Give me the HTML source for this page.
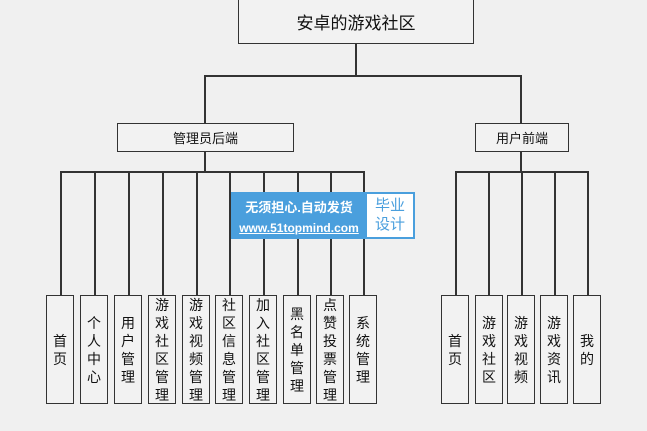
<!DOCTYPE html>
<html><head><meta charset="utf-8"><style>
body{margin:0;width:647px;height:431px;background:#f0f0f0;position:relative;overflow:hidden;font-family:"Liberation Sans","Noto Sans CJK SC",sans-serif;color:#111}
.b{position:absolute;border:1.5px solid #333;box-sizing:border-box;background:#f2f2f2;display:flex;align-items:center;justify-content:center}
.l{position:absolute;background:#333}
.v{writing-mode:vertical-rl;text-orientation:upright;font-size:14px;line-height:26px;letter-spacing:4px}
.c{position:absolute;top:295px;width:28px;height:109px;border:1.5px solid #333;box-sizing:border-box;background:#f2f2f2;display:flex;align-items:center;justify-content:center;overflow:hidden}
.c span{display:block;width:14px;font-size:14px;line-height:18px;text-align:center;word-break:break-all}
</style></head><body>
<div class="b" style="left:238px;top:-2px;width:236px;height:46px;font-size:17px">安卓的游戏社区</div>
<div class="l" style="left:355px;top:43px;width:1.5px;height:33px"></div>
<div class="l" style="left:204px;top:75px;width:318px;height:1.5px"></div>
<div class="l" style="left:204px;top:75px;width:1.5px;height:49px"></div>
<div class="l" style="left:520px;top:75px;width:1.5px;height:49px"></div>
<div class="b" style="left:117px;top:123px;width:177px;height:29px;font-size:13px">管理员后端</div>
<div class="b" style="left:475px;top:123px;width:94px;height:29px;font-size:13px">用户前端</div>
<div class="l" style="left:204px;top:151px;width:1.5px;height:21px"></div>
<div class="l" style="left:520px;top:151px;width:1.5px;height:21px"></div>
<div class="l" style="left:60px;top:171px;width:304px;height:1.5px"></div>
<div class="l" style="left:455px;top:171px;width:133px;height:1.5px"></div>
<div class="l" style="left:60px;top:171px;width:1.5px;height:124px"></div>
<div class="l" style="left:94px;top:171px;width:1.5px;height:124px"></div>
<div class="l" style="left:128px;top:171px;width:1.5px;height:124px"></div>
<div class="l" style="left:162px;top:171px;width:1.5px;height:124px"></div>
<div class="l" style="left:196px;top:171px;width:1.5px;height:124px"></div>
<div class="l" style="left:229px;top:171px;width:1.5px;height:124px"></div>
<div class="l" style="left:263px;top:171px;width:1.5px;height:124px"></div>
<div class="l" style="left:297px;top:171px;width:1.5px;height:124px"></div>
<div class="l" style="left:330px;top:171px;width:1.5px;height:124px"></div>
<div class="l" style="left:363px;top:171px;width:1.5px;height:124px"></div>
<div class="l" style="left:455px;top:171px;width:1.5px;height:124px"></div>
<div class="l" style="left:488px;top:171px;width:1.5px;height:124px"></div>
<div class="l" style="left:521px;top:171px;width:1.5px;height:124px"></div>
<div class="l" style="left:554px;top:171px;width:1.5px;height:124px"></div>
<div class="l" style="left:587px;top:171px;width:1.5px;height:124px"></div>

<div class="c" style="left:46px"><span>首页</span></div>
<div class="c" style="left:80px"><span>个人中心</span></div>
<div class="c" style="left:114px"><span>用户管理</span></div>
<div class="c" style="left:148px"><span>游戏社区管理</span></div>
<div class="c" style="left:182px"><span>游戏视频管理</span></div>
<div class="c" style="left:215px"><span>社区信息管理</span></div>
<div class="c" style="left:249px"><span>加入社区管理</span></div>
<div class="c" style="left:283px"><span>黑名单管理</span></div>
<div class="c" style="left:316px"><span>点赞投票管理</span></div>
<div class="c" style="left:349px"><span>系统管理</span></div>
<div class="c" style="left:441px"><span>首页</span></div>
<div class="c" style="left:475px"><span>游戏社区</span></div>
<div class="c" style="left:507px"><span>游戏视频</span></div>
<div class="c" style="left:540px"><span>游戏资讯</span></div>
<div class="c" style="left:573px"><span>我的</span></div>

<div style="position:absolute;left:231px;top:192px;width:184px;height:47px;background:#4a9fdd"></div>
<div style="position:absolute;left:231px;top:197px;width:136px;text-align:center;color:#fff;font-size:13px;font-weight:bold">无须担心.自动发货</div>
<div style="position:absolute;left:231px;top:221px;width:136px;text-align:center;color:#fff;font-size:12px;font-weight:bold;text-decoration:underline">www.51topmind.com</div>
<div style="position:absolute;left:367px;top:194px;width:46px;height:43px;background:#fff;color:#4a9fdd;font-size:15px;line-height:19px;text-align:center;padding-top:2px;box-sizing:border-box">毕业<br>设计</div>
</body></html>
